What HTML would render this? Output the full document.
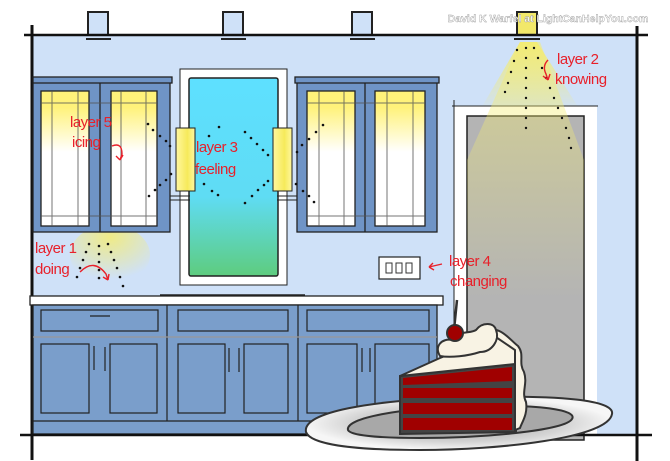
<!DOCTYPE html>
<html><head><meta charset="utf-8"><style>
html,body{margin:0;padding:0;background:#fff;width:670px;height:461px;overflow:hidden}
svg{display:block}
.lbl{font-family:"Liberation Sans",sans-serif;font-size:15px;fill:#e8202a;letter-spacing:-0.5px}
</style></head><body>
<svg width="670" height="461" viewBox="0 0 670 461" xmlns="http://www.w3.org/2000/svg">
<defs>
<linearGradient id="glass" x1="0" y1="0" x2="0" y2="1">
<stop offset="0" stop-color="#fff27a"/><stop offset="0.12" stop-color="#fff27a"/><stop offset="0.45" stop-color="#ffffff"/><stop offset="1" stop-color="#ffffff"/></linearGradient>
<linearGradient id="win" x1="0" y1="0" x2="0" y2="1">
<stop offset="0" stop-color="#5ee0ff"/><stop offset="0.6" stop-color="#5fdcf4"/><stop offset="1" stop-color="#5ecc7e"/></linearGradient>
<linearGradient id="sconce" x1="0" y1="0" x2="1" y2="0">
<stop offset="0" stop-color="#fff7a0"/><stop offset="0.6" stop-color="#f6ea5a"/><stop offset="1" stop-color="#fff7a0"/></linearGradient>
<radialGradient id="pool" cx="0.5" cy="0.2" r="0.7"><stop offset="0" stop-color="#f3ec7a" stop-opacity="0.9"/><stop offset="1" stop-color="#f3ec7a" stop-opacity="0"/></radialGradient>
<linearGradient id="beam" x1="0" y1="0" x2="0" y2="1"><stop offset="0" stop-color="#f4ec70" stop-opacity="0.95"/><stop offset="1" stop-color="#f4ec70" stop-opacity="0"/></linearGradient>
<radialGradient id="plate" cx="0.5" cy="0.5" r="0.5"><stop offset="0" stop-color="#9a9a9a"/><stop offset="0.7" stop-color="#d4d4d4"/><stop offset="1" stop-color="#f6f6f6"/></radialGradient>
</defs>
<rect x="33" y="35" width="604" height="400" fill="#cfe1f8"/>
<g fill="#cfe1f8" stroke="#222" stroke-width="2">
<rect x="88" y="12" width="20" height="23"/><rect x="223" y="12" width="20" height="23"/><rect x="352" y="12" width="20" height="23"/>
<rect x="517" y="12" width="20" height="23" fill="#f2e86a"/></g>
<g stroke="#222" stroke-width="2"><line x1="86" y1="39" x2="111" y2="39"/><line x1="221" y1="39" x2="246" y2="39"/><line x1="350" y1="39" x2="375" y2="39"/><line x1="514" y1="39" x2="540" y2="39"/></g>
<line x1="24" y1="35" x2="648" y2="35" stroke="#111" stroke-width="2.5"/>
<line x1="32" y1="25" x2="32" y2="460" stroke="#111" stroke-width="3"/>
<line x1="637" y1="26" x2="637" y2="461" stroke="#111" stroke-width="3"/>
<text x="548" y="22" text-anchor="middle" font-family="Liberation Sans,sans-serif" font-size="10.5" font-weight="bold" fill="#fff" stroke="#999" stroke-width="0.4">David K Warfel at LightCanHelpYou.com</text>
<path d="M520 42 L480 110 L580 110 L537 42Z" fill="url(#beam)"/>
<rect x="454" y="106" width="143" height="334" fill="#fff"/>
<line x1="452" y1="106" x2="598" y2="106" stroke="#222"/>
<line x1="454" y1="100" x2="454" y2="440" stroke="#222"/>
<rect x="467" y="116" width="117" height="324" fill="#b4b4b4" stroke="#222" stroke-width="1.5"/>
<path d="M520 42 L467 160 L467 300 L584 300 L584 160 L540 42Z" fill="url(#beam)" opacity="0.55"/>
<g fill="#111"><circle cx="517" cy="50" r="1.2"/><circle cx="514" cy="61" r="1.2"/><circle cx="511" cy="72" r="1.2"/><circle cx="508" cy="83" r="1.2"/><circle cx="505" cy="92" r="1.2"/>
<circle cx="526" cy="48" r="1.2"/><circle cx="526" cy="58" r="1.2"/><circle cx="526" cy="68" r="1.2"/><circle cx="526" cy="78" r="1.2"/><circle cx="526" cy="88" r="1.2"/><circle cx="526" cy="98" r="1.2"/><circle cx="526" cy="108" r="1.2"/><circle cx="526" cy="118" r="1.2"/><circle cx="526" cy="128" r="1.2"/>
<circle cx="534" cy="48" r="1.2"/><circle cx="538" cy="58" r="1.2"/><circle cx="542" cy="68" r="1.2"/><circle cx="546" cy="78" r="1.2"/><circle cx="550" cy="88" r="1.2"/><circle cx="554" cy="98" r="1.2"/><circle cx="558" cy="108" r="1.2"/><circle cx="562" cy="118" r="1.2"/><circle cx="566" cy="128" r="1.2"/><circle cx="569" cy="138" r="1.2"/><circle cx="571" cy="148" r="1.2"/></g>
<rect x="180" y="69" width="107" height="216" fill="#fff" stroke="#222" stroke-width="1"/>
<rect x="189" y="78" width="89" height="198" rx="2" fill="url(#win)" stroke="#222" stroke-width="1.5"/>
<line x1="160" y1="295" x2="305" y2="295" stroke="#222" stroke-width="1.5"/>
<ellipse cx="110" cy="255" rx="40" ry="30" fill="url(#pool)"/>
<g stroke="#222" stroke-width="1.3">
<rect x="33" y="80" width="137" height="152" fill="#6f94c6"/>
<rect x="33" y="77" width="139" height="6" fill="#6f94c6"/>
<line x1="100" y1="83" x2="100" y2="232"/>
<rect x="41" y="91" width="48" height="135" fill="url(#glass)"/>
<rect x="111" y="91" width="46" height="135" fill="url(#glass)"/>
<rect x="297" y="80" width="140" height="152" fill="#6f94c6"/>
<rect x="295" y="77" width="144" height="6" fill="#6f94c6"/>
<line x1="365" y1="83" x2="365" y2="232"/>
<rect x="307" y="91" width="48" height="135" fill="url(#glass)"/>
<rect x="375" y="91" width="50" height="135" fill="url(#glass)"/>
</g>
<g stroke="#555" stroke-width="1" opacity="0.8">
<line x1="52" y1="91" x2="52" y2="226"/><line x1="78" y1="91" x2="78" y2="226"/><line x1="121" y1="91" x2="121" y2="226"/><line x1="146" y1="91" x2="146" y2="226"/>
<line x1="319" y1="91" x2="319" y2="226"/><line x1="344" y1="91" x2="344" y2="226"/><line x1="387" y1="91" x2="387" y2="226"/><line x1="413" y1="91" x2="413" y2="226"/>
<line x1="41" y1="103" x2="157" y2="103"/><line x1="41" y1="216" x2="157" y2="216"/><line x1="307" y1="103" x2="425" y2="103"/><line x1="307" y1="216" x2="425" y2="216"/>
</g>
<g stroke="#222" stroke-width="1">
<rect x="176" y="128" width="19" height="63" fill="url(#sconce)"/><rect x="273" y="128" width="19" height="63" fill="url(#sconce)"/>
<line x1="170" y1="196" x2="190" y2="196"/><line x1="170" y1="200" x2="190" y2="200"/><line x1="277" y1="196" x2="297" y2="196"/><line x1="277" y1="200" x2="297" y2="200"/></g>
<g fill="#111">
<circle cx="148" cy="124" r="1.3"/><circle cx="153" cy="130" r="1.3"/><circle cx="160" cy="136" r="1.3"/><circle cx="166" cy="141" r="1.3"/><circle cx="170" cy="146" r="1.3"/>
<circle cx="149" cy="196" r="1.3"/><circle cx="155" cy="190" r="1.3"/><circle cx="160" cy="185" r="1.3"/><circle cx="166" cy="180" r="1.3"/><circle cx="171" cy="174" r="1.3"/>
<circle cx="219" cy="127" r="1.3"/><circle cx="209" cy="136" r="1.3"/><circle cx="204" cy="184" r="1.3"/><circle cx="212" cy="191" r="1.3"/><circle cx="218" cy="195" r="1.3"/>
<circle cx="245" cy="132" r="1.3"/><circle cx="251" cy="138" r="1.3"/><circle cx="257" cy="144" r="1.3"/><circle cx="263" cy="150" r="1.3"/><circle cx="268" cy="155" r="1.3"/>
<circle cx="245" cy="203" r="1.3"/><circle cx="252" cy="196" r="1.3"/><circle cx="258" cy="190" r="1.3"/><circle cx="264" cy="185" r="1.3"/><circle cx="268" cy="181" r="1.3"/>
<circle cx="297" cy="152" r="1.3"/><circle cx="302" cy="145" r="1.3"/><circle cx="309" cy="139" r="1.3"/><circle cx="316" cy="132" r="1.3"/><circle cx="323" cy="125" r="1.3"/>
<circle cx="296" cy="184" r="1.3"/><circle cx="303" cy="191" r="1.3"/><circle cx="309" cy="196" r="1.3"/><circle cx="314" cy="202" r="1.3"/>
<circle cx="89" cy="244" r="1.3"/><circle cx="86" cy="252" r="1.3"/><circle cx="83" cy="260" r="1.3"/><circle cx="80" cy="268" r="1.3"/><circle cx="77" cy="277" r="1.3"/>
<circle cx="99" cy="246" r="1.3"/><circle cx="99" cy="254" r="1.3"/><circle cx="99" cy="262" r="1.3"/><circle cx="99" cy="270" r="1.3"/><circle cx="99" cy="278" r="1.3"/>
<circle cx="108" cy="244" r="1.3"/><circle cx="111" cy="252" r="1.3"/><circle cx="114" cy="260" r="1.3"/><circle cx="117" cy="268" r="1.3"/><circle cx="120" cy="277" r="1.3"/><circle cx="123" cy="286" r="1.3"/></g>
<rect x="379" y="257" width="41" height="22" fill="#fff" stroke="#222" stroke-width="1.2"/>
<g fill="none" stroke="#333"><rect x="386" y="263" width="6" height="10"/><rect x="396" y="263" width="6" height="10"/><rect x="406" y="263" width="6" height="10"/></g>
<rect x="30" y="296" width="413" height="9" fill="#fff" stroke="#222" stroke-width="1.3"/>
<rect x="33" y="305" width="404" height="129" fill="#7a9ecb" stroke="#222" stroke-width="1.3"/>
<g stroke="#222" stroke-width="1.2" fill="none">
<line x1="167" y1="305" x2="167" y2="421"/><line x1="298" y1="305" x2="298" y2="421"/><line x1="33" y1="337" x2="437" y2="337" stroke="#999"/><line x1="33" y1="421" x2="437" y2="421"/>
<rect x="41" y="310" width="117" height="21"/><rect x="178" y="310" width="110" height="21"/><rect x="307" y="310" width="122" height="21"/>
<line x1="90" y1="316" x2="110" y2="316"/>
<rect x="41" y="344" width="48" height="69"/><rect x="110" y="344" width="47" height="69"/>
<rect x="178" y="344" width="47" height="69"/><rect x="244" y="344" width="44" height="69"/>
<rect x="307" y="344" width="50" height="69"/><rect x="375" y="344" width="54" height="69"/>
<line x1="94" y1="346" x2="94" y2="370"/><line x1="105" y1="347" x2="105" y2="371"/>
<line x1="229" y1="348" x2="229" y2="372"/><line x1="239" y1="348" x2="239" y2="372"/>
<line x1="362" y1="348" x2="362" y2="372"/><line x1="370" y1="348" x2="370" y2="372"/>
</g>
<line x1="20" y1="435" x2="652" y2="435" stroke="#111" stroke-width="2.5"/>
<g class="lbl">
<text x="70" y="127">layer 5</text><text x="72" y="147">icing</text>
<text x="196" y="152">layer 3</text><text x="195" y="174">feeling</text>
<text x="35" y="253">layer 1</text><text x="35" y="274">doing</text>
<text x="557" y="64">layer 2</text><text x="555" y="84">knowing</text>
<text x="449" y="266">layer 4</text><text x="450" y="286">changing</text>
</g>
<g fill="none" stroke="#e8202a" stroke-width="1.4">
<path d="M112 146 q10 -4 10 8 l-2 6 m0 0 l-4 -4 m4 4 l3 -5"/>
<path d="M80 272 q14 -14 26 2 l2 6 m0 0 l-5 -3 m5 3 l1 -6"/>
<path d="M548 60 q-6 6 -2 14 l2 6 m0 0 l-5 -4 m5 4 l2 -6"/>
<path d="M442 264 l-13 3 m0 0 l4 -4 m-4 4 l5 3"/>
</g>
<!-- plate -->
<path d="M306 432 C302 412 370 400 470 397 C560 395 615 400 612 414 C608 438 500 450 420 450 C350 450 310 444 306 432Z" fill="url(#plate)" stroke="#333" stroke-width="2"/>
<path d="M348 430 C345 418 400 408 470 406 C540 404 578 410 572 419 C565 431 480 438 420 438 C375 438 350 435 348 430Z" fill="#a8a8a8" stroke="#333" stroke-width="2"/>
<!-- cake -->
<path d="M400 376 L515 364 L516 432 L400 434Z" fill="#444" stroke="#333" stroke-width="2"/>
<path d="M403 378 L512 367 L512 381 L403 385Z" fill="#a00000"/>
<rect x="403" y="388" width="109" height="10" fill="#a00000"/>
<rect x="403" y="403" width="109" height="11" fill="#a00000"/>
<rect x="403" y="418" width="109" height="12" fill="#a00000"/>
<path d="M400 376 L440 358 C460 350 476 343 487 331 L505 338 L515 350 L515 364Z" fill="#f8f3e4" stroke="#333" stroke-width="2" stroke-linejoin="round"/>
<path d="M487 331 C500 325 510 340 518 346 C525 355 518 362 524 372 C528 384 521 392 526 402 C528 414 522 422 520 428 L515 430 L515 350Z" fill="#f8f3e4" stroke="#333" stroke-width="2"/>
<path d="M440 356 C434 346 442 338 452 340 C458 330 470 334 476 330 C482 322 494 322 496 330 C500 340 492 352 480 352 C468 356 450 358 440 356Z" fill="#f8f3e4" stroke="#333" stroke-width="2"/>
<line x1="454" y1="330" x2="457" y2="300" stroke="#333" stroke-width="2.5"/>
<circle cx="455" cy="333" r="8" fill="#a00000" stroke="#333" stroke-width="2"/>
</svg>
</body></html>
